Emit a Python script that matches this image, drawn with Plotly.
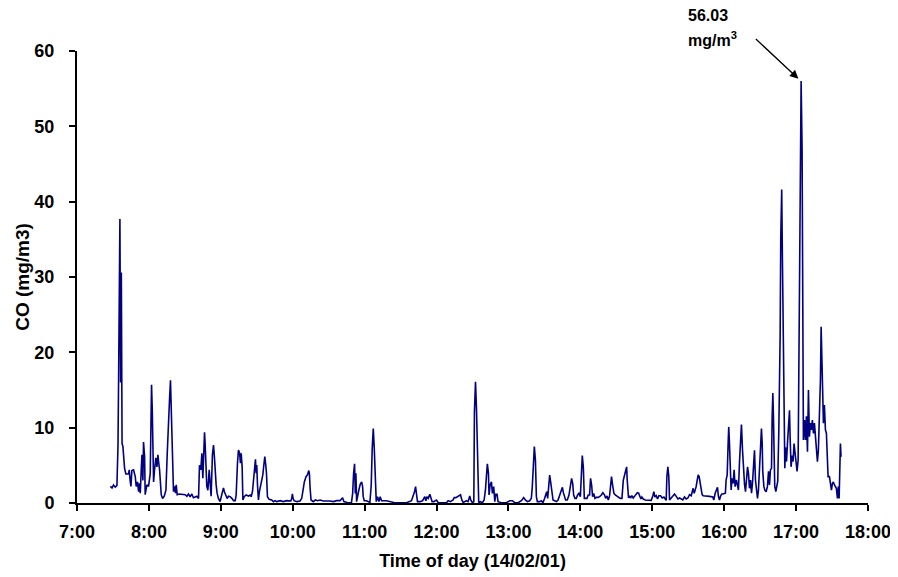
import plotly.graph_objects as go

# Time of each reading, minutes after 07:00 (14/02/01)
minutes_after_7 = [
    27.8, 29.2, 30.5, 31.9, 33.3, 33.6, 34.2, 34.7, 35.8, 36.4, 37.0, 37.6, 38.3, 39.7, 40.8,
    43.0, 43.6, 44.4, 45.0, 45.8, 47.2, 48.6, 49.4, 50.5, 51.4, 52.2, 52.8, 53.6, 54.2, 55.0,
    55.5, 56.4, 56.9, 58.3, 59.7, 61.1, 61.7, 62.2, 62.8, 63.3, 63.9, 64.7, 65.8, 66.7, 67.5,
    68.0, 68.9, 70.3, 71.4, 72.8, 74.2, 75.3, 76.1, 77.2, 78.0, 78.6, 79.2, 80.0, 80.5, 81.4,
    82.2, 82.8, 83.6, 85.3, 88.0, 90.3, 91.7, 93.0, 94.4, 95.8, 97.2, 98.6, 100.0, 101.4, 102.2,
    103.3, 104.2, 105.0, 105.8, 106.4, 106.9, 107.5, 108.3, 109.2, 110.3, 111.1, 111.9, 113.0, 113.9, 114.7,
    115.3, 116.1, 116.9, 118.0, 119.4, 120.8, 122.2, 123.0, 124.2, 125.3, 126.4,
    127.8, 129.2, 130.6, 132.0, 132.8, 133.9, 134.7, 135.6, 136.4, 137.0, 137.8, 138.4, 139.5, 141.1, 143.1,
    144.5, 145.3, 146.4, 147.2, 148.1, 148.9, 149.5, 150.0, 150.6, 151.4, 152.2, 153.4, 154.2, 155.0, 155.9,
    156.7, 157.5, 158.1, 158.9, 160.3, 162.5, 163.9, 165.3, 166.7, 169.5, 172.2, 175.0, 178.4, 179.2, 179.7,
    180.3, 181.1, 183.4, 186.1, 187.5, 188.6, 189.7, 191.1, 192.2, 193.4, 193.9, 194.5, 195.3, 197.2, 198.9,
    200.9, 202.8, 205.6, 208.4, 211.1, 213.9, 216.7, 219.5,
    221.6, 222.7, 226.0, 229.0, 230.0, 230.8, 231.6, 232.2, 232.7, 233.3, 234.1, 235.2, 236.3, 237.5, 238.3,
    238.8, 239.7, 241.6, 244.4, 245.5, 246.3, 247.2, 248.0, 248.8, 249.7, 250.8, 251.9, 253.0, 254.1, 258.3,
    261.1, 265.0, 270.0, 275.0, 279.1, 280.5, 281.6, 282.5, 283.3, 284.1, 286.1, 288.3, 290.2, 291.1, 291.9,
    293.0, 294.4, 295.2, 296.3, 297.7, 300.0, 301.4, 305.5, 308.3, 309.7, 311.6, 313.8, 314.7, 316.1, 317.5,
    318.9, 320.0, 321.1, 322.2, 325.0, 326.3, 327.7, 328.5, 329.9, 331.1, 331.6, 332.5, 333.3, 334.1, 334.7,
    335.2, 336.6, 338.3, 339.7, 340.8, 341.6, 342.4, 343.3, 343.8, 344.7, 345.8, 346.6, 347.7, 348.6, 349.4,
    350.5, 351.3, 354.1, 358.3, 361.1, 363.3, 365.2, 368.0, 370.8, 372.7, 374.1, 375.8, 377.7, 379.1, 379.9,
    380.8, 381.6, 382.5, 383.3, 384.1, 386.1, 387.5, 388.8, 390.2, 391.1, 391.9, 392.7, 393.5, 394.4, 395.2,
    396.1, 397.2, 398.6, 400.0, 401.4, 402.8, 403.9, 405.0, 405.8, 406.6, 407.7, 409.1, 410.5, 411.6, 412.7,
    413.6, 414.4, 415.5, 416.6, 417.7, 418.8, 420.0, 420.8, 421.6, 422.5, 423.3, 424.4, 425.5, 426.6, 427.7,
    428.5, 429.4, 430.2, 431.1, 432.2, 433.3, 434.7, 436.1, 437.5, 438.8, 440.2, 441.1, 442.2, 443.3, 444.4,
    445.2, 446.0, 446.9, 448.0, 449.1, 450.5, 451.9, 453.3, 454.7, 455.8,
    456.9, 457.7, 458.6, 459.1, 459.7, 460.2, 461.1, 461.9, 463.0, 464.1, 465.2, 466.3, 467.5, 468.6, 469.7,
    470.5, 471.3, 472.5, 474.1, 476.3, 479.1, 480.5, 481.3, 482.2, 483.3, 484.4, 485.5, 486.9, 488.3, 489.7,
    490.8, 491.6, 492.2, 493.0, 493.8, 494.4, 495.8, 497.2, 498.6, 500.0, 501.4, 502.8, 504.1, 505.5, 506.9,
    508.3, 509.7, 511.1, 512.5, 513.3, 514.1, 515.0, 515.8, 516.6, 517.5, 518.3, 519.1, 519.9, 520.8, 521.6,
    522.5, 525.0, 527.7, 530.5, 531.3, 532.5, 533.6, 534.4, 535.2, 536.1, 536.9, 538.0, 539.1, 540.2, 541.0,
    541.6, 542.5, 543.3, 543.8, 544.4, 545.0, 545.8, 546.6, 547.5, 548.3, 549.1, 550.2, 551.1, 551.9,
    552.8, 553.6, 554.4, 555.3, 556.1, 557.0, 557.8, 558.6, 559.5, 560.3, 561.1, 562.0, 562.8, 563.6, 564.5,
    565.3, 566.1, 567.0, 567.8, 568.6, 569.5, 570.3, 571.1, 571.7, 572.2, 573.1, 573.9, 575.0, 576.1, 577.0,
    577.8, 578.6, 579.5, 580.0, 580.6, 581.1, 581.7, 582.2, 583.1, 583.9, 584.7, 585.6, 586.1, 586.7, 587.2,
    588.0, 588.6, 589.4, 590.0, 590.6, 591.1, 592.0, 592.8, 593.6, 594.5, 595.0, 595.8, 596.7, 597.5, 598.3,
    599.2, 600.0, 600.8, 601.7, 602.2, 602.8, 603.4, 604.2, 605.0, 605.6, 606.1, 607.0, 607.8, 608.6, 609.5,
    610.3, 611.1, 612.0, 612.8, 613.6, 614.5, 615.3, 616.1, 617.0, 617.8, 618.6, 619.5, 620.3, 620.9, 621.4,
    622.0, 622.8, 623.6, 624.5, 625.3, 625.9, 626.7, 627.8, 628.6, 629.5, 630.3, 631.1, 632.0, 632.8, 633.6,
    634.5, 635.3, 635.9, 636.4, 637.0, 637.5,
]

# CO concentration (mg/m3)
co_mg_m3 = [
    2.2, 2.0, 2.4, 2.1, 2.3, 4.5, 7.6, 16.3, 37.7, 16.0, 30.6, 7.9, 7.5, 4.6, 3.85,
    3.85, 4.4, 2.9, 2.2, 4.3, 4.4, 3.5, 2.2, 2.8, 1.5, 2.6, 1.3, 4.4, 6.4, 3.0,
    8.1, 6.2, 1.1, 2.4, 2.2, 3.9, 12.4, 15.7, 12.4, 7.5, 2.8, 4.4, 6.0, 4.8, 6.4,
    5.6, 4.4, 1.1, 0.6, 0.9, 1.7, 6.6, 11.0, 13.7, 16.3, 12.4, 6.6, 4.8, 1.5, 2.2,
    1.3, 2.4, 1.1, 1.2, 1.2, 1.1, 0.9, 1.2, 0.8, 1.2, 0.7, 0.8, 0.9, 0.6, 5.0,
    4.4, 6.6, 3.3, 6.8, 9.4, 7.9, 5.8, 2.2, 1.7, 4.4, 2.6, 0.9, 6.4, 7.7, 6.0,
    3.3, 2.4, 1.3, 0.6, 0.2, 1.1, 2.0, 1.5, 0.9, 0.6, 0.9,
    0.84, 0.62, 0.31, 0.31, 1.06, 5.27, 7.04, 6.68, 5.27, 6.6, 4.8, 0.4, 0.84, 1.06, 0.93,
    1.06, 0.84, 1.5, 3.05, 5.04, 5.8, 3.94, 5.04, 2.4, 0.4, 1.5, 2.4, 3.05, 3.7, 5.04,
    6.15, 5.04, 3.94, 0.84, 0.49, 0.4, 0.18, 0.31, 0.18, 0.31, 0.18, 0.31, 0.27, 0.62, 1.2,
    0.62, 0.31, 0.18, 0.27, 0.62, 1.95, 2.8, 3.5, 3.7, 4.3, 3.94, 1.95, 0.4, 0.18, 0.4,
    0.31, 0.4, 0.27, 0.31, 0.27, 0.18, 0.31, 0.31,
    0.71, 0.18, 0.04, 0.04, 1.28, 3.94, 5.2, 1.28, 3.94, 0.18, 1.06, 1.73, 2.48, 2.8, 2.17,
    0.84, 0.3, 0.3, 0.08, 2.39, 7.2, 9.87, 7.4, 3.05, 0.18, 0.84, 0.18, 0.84, 0.3, 0.3,
    0.18, 0.04, 0.04, 0.04, 0.3, 0.84, 1.5, 2.17, 1.06, 0.18, 0.18, 0.3, 0.84, 0.3, 0.84,
    0.62, 1.15, 0.84, 0.18, 0.18, 0.4, 0.04, 0.04, 0.04, 0.3, 0.18, 0.4, 0.71, 0.71, 0.84,
    0.97, 1.1, 0.4, 0.08, 0.3, 0.18, 0.93, 0.4, 0.04, 0.18, 12.0, 16.1, 12.6, 6.1, 2.6,
    0.04, 0.18, 0.04, 0.4, 1.73, 3.5, 5.2, 3.94, 1.06, 2.39, 2.8, 1.28, 2.17, 0.18, 1.15,
    1.15, 0.18, 0.04, 0.04, 0.3, 0.3, 0.04, 0.04, 0.3, 0.71, 0.4, 0.18, 0.3, 0.62, 2.17,
    5.66, 7.5, 5.66, 0.84, 0.18, 0.18, 0.3, 0.04, 0.62, 1.28, 1.5, 0.62, 2.39, 3.7, 2.8,
    1.73, 0.4, 0.3, 0.18, 0.4, 1.06, 1.28, 2.08, 1.37, 1.06, 0.4, 0.4, 1.06, 2.17, 3.27,
    2.6, 1.06, 0.62, 0.62, 1.06, 1.28, 0.84, 4.9, 6.3, 4.69, 0.62, 0.62, 0.62, 1.06, 1.06,
    3.27, 2.39, 0.84, 1.28, 0.62, 0.75, 0.75, 0.84, 1.06, 1.37, 1.06, 0.62, 0.93, 0.4, 0.97,
    2.8, 3.5, 2.39, 1.28, 1.06, 0.93, 0.84, 0.62, 0.62, 3.0,
    3.72, 4.4, 4.8, 3.05, 1.5, 0.66, 0.97, 0.66, 0.97, 0.66, 0.88, 1.2, 1.37, 1.3, 0.97,
    0.53, 0.8, 0.53, 0.4, 0.35, 0.35, 0.97, 1.5, 0.8, 0.97, 0.53, 0.97, 0.97, 0.66, 0.8,
    0.4, 0.35, 3.5, 4.8, 3.5, 0.4, 0.66, 0.88, 1.2, 0.88, 0.53, 0.66, 0.53, 0.4, 0.8,
    0.53, 0.66, 1.1, 0.97, 1.5, 1.95, 1.3, 1.73, 2.17, 3.05, 3.72, 3.5, 2.83, 1.73, 1.1,
    0.97, 0.97, 0.88, 0.8, 0.4, 1.3, 1.81, 2.08, 0.88, 0.4, 0.88, 1.2, 1.2, 1.3, 1.3,
    3.05, 3.72, 7.92, 10.1, 7.92, 3.72, 1.73, 3.27, 2.6, 4.4, 2.17, 3.05, 1.95, 1.73,
    5.5, 8.4, 10.4, 7.0, 4.6, 2.4, 1.5, 3.05, 4.8, 3.9, 1.95, 3.05, 1.3, 2.6, 5.5,
    7.0, 3.05, 1.7, 0.6, 1.7, 4.8, 7.7, 9.9, 8.0, 4.2, 2.2, 1.7, 1.5, 2.2, 4.2,
    2.4, 4.4, 4.6, 11.2, 14.6, 11.5, 5.5, 2.2, 1.5, 2.2, 2.9, 9.7, 15.0, 22.3, 35.1,
    41.6, 32.3, 20.0, 7.9, 4.6, 7.4, 5.5, 7.9, 10.1, 12.3, 8.8, 4.8, 6.3, 5.5, 7.9,
    6.3, 4.8, 4.2, 5.7, 17.2, 23.8, 43.1, 56.03, 47.1, 28.7, 8.36, 11.0, 8.36, 11.5, 6.8,
    15.0, 8.8, 10.6, 9.7, 11.0, 9.25, 10.6, 9.25, 7.0, 5.5, 7.0, 11.9, 16.3, 23.4, 19.9,
    12.8, 10.6, 13.0, 9.7, 9.25, 5.5, 3.5, 3.5, 2.2, 1.7, 2.6, 2.8, 2.4, 2.2, 1.95,
    0.6, 2.2, 0.6, 4.8, 7.9, 6.15,
]

tick_minutes = [0, 60, 120, 180, 240, 300, 360, 420, 480, 540, 600, 660]
tick_labels = ["7:00", "8:00", "9:00", "10:00", "11:00", "12:00",
               "13:00", "14:00", "15:00", "16:00", "17:00", "18:00"]
y_ticks = [0, 10, 20, 30, 40, 50, 60]

peak_value = max(co_mg_m3)
peak_time = minutes_after_7[co_mg_m3.index(peak_value)]

FONT = "Liberation Sans, Arial, sans-serif"
TXT = dict(family=FONT, size=18, color="black", weight="bold")
ANN = dict(family=FONT, size=16, color="black", weight="bold")

fig = go.Figure()
fig.add_trace(go.Scatter(
    x=minutes_after_7, y=co_mg_m3, mode="lines",
    line=dict(color="#000080", width=1.6),
    showlegend=False, hoverinfo="skip",
))

# The page body adds an 8px offset, so margins are shifted to compensate
fig.update_layout(
    width=898, height=577,
    margin=dict(l=69, r=38, t=43, b=82, autoexpand=False),
    paper_bgcolor="white", plot_bgcolor="white",
    font=TXT,
    xaxis=dict(
        range=[0, 660], tickvals=tick_minutes, ticktext=tick_labels,
        showgrid=False, zeroline=False, showline=True, linecolor="black", linewidth=2,
        ticks="outside", ticklen=6, tickwidth=2, tickcolor="black",
        tickfont=TXT, ticklabelstandoff=5, automargin=False,
        title=dict(text="Time of day (14/02/01)", standoff=14, font=TXT),
    ),
    yaxis=dict(
        range=[0, 60], tickvals=y_ticks,
        showgrid=False, zeroline=False, showline=True, linecolor="black", linewidth=2,
        ticks="outside", ticklen=6, tickwidth=2, tickcolor="black",
        tickfont=TXT, ticklabelstandoff=11, automargin=False,
        title=dict(text="CO (mg/m3)", standoff=0,
                   font=dict(family=FONT, size=19, color="black", weight="bold")),
    ),
)

# Peak annotation: arrow pointing at the maximum
fig.add_annotation(
    x=peak_time - 2.3, y=peak_value + 0.3, xref="x", yref="y",
    text="", showarrow=True, arrowhead=2, arrowsize=1.3, arrowwidth=1.3,
    arrowcolor="black", ax=-44, ay=-41, axref="pixel", ayref="pixel",
)
fig.add_annotation(
    x=0.7977, y=1.0785, xref="paper", yref="paper", showarrow=False,
    xanchor="center", yanchor="middle",
    text=f"{peak_value:.2f}", font=ANN,
)
fig.add_annotation(
    x=0.8028, y=1.0255, xref="paper", yref="paper", showarrow=False,
    xanchor="center", yanchor="middle",
    text="mg/m<sup>3</sup>", font=ANN,
)

fig.write_html("out.html")
